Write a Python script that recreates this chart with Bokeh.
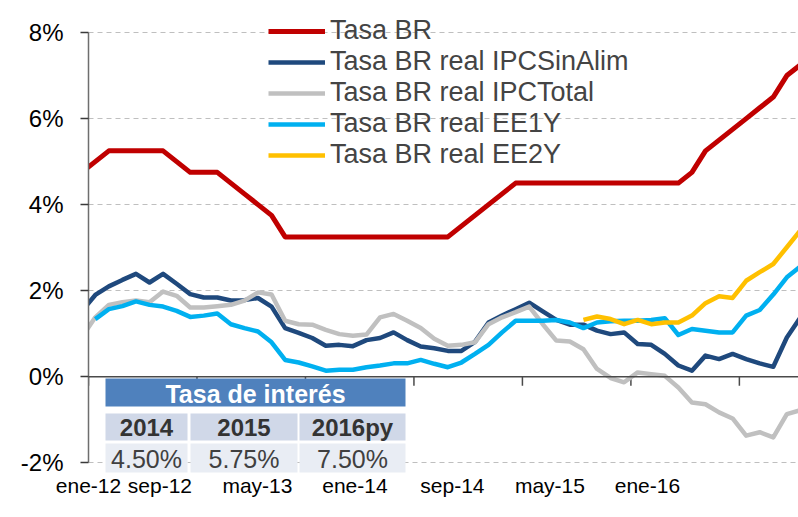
import numpy as np
from bokeh.plotting import figure
from bokeh.models import (Range1d, FixedTicker, Span, Legend, LegendItem,
                          PrintfTickFormatter, ColumnDataSource)
from bokeh.core.properties import value
from bokeh.embed import file_html
from bokeh.resources import INLINE

# ---------------- data ----------------
MES = ["ene", "feb", "mar", "abr", "may", "jun", "jul", "ago", "sep", "oct", "nov", "dic"]
MONTHS = ["dic-11"] + [f"{m}-{y}" for y in range(12, 17) for m in MES][:53]   # dic-11 .. may-16

TASA_BR = [4.75,
           5.00, 5.25, 5.25, 5.25, 5.25, 5.25, 5.00, 4.75, 4.75, 4.75, 4.50, 4.25,
           4.00, 3.75, 3.25, 3.25, 3.25, 3.25, 3.25, 3.25, 3.25, 3.25, 3.25, 3.25,
           3.25, 3.25, 3.25, 3.50, 3.75, 4.00, 4.25, 4.50, 4.50, 4.50, 4.50, 4.50,
           4.50, 4.50, 4.50, 4.50, 4.50, 4.50, 4.50, 4.50, 4.75, 5.25, 5.50, 5.75,
           6.00, 6.25, 6.50, 7.00, 7.25]

REAL_SINALIM = [1.52,
                1.90, 2.10, 2.25, 2.39, 2.19, 2.39, 2.16, 1.92, 1.84, 1.84, 1.77, 1.78,
                1.83, 1.63, 1.13, 1.02, 0.90, 0.72, 0.74, 0.71, 0.85, 0.90, 1.03, 0.85,
                0.70, 0.66, 0.60, 0.60, 0.81, 1.26, 1.42, 1.57, 1.72, 1.52, 1.32, 1.21,
                1.21, 1.07, 0.99, 1.03, 0.76, 0.74, 0.53, 0.26, 0.14, 0.49, 0.41, 0.53,
                0.41, 0.31, 0.23, 0.91, 1.38]

REAL_TOTAL = [0.92,
              1.38, 1.67, 1.73, 1.77, 1.73, 1.98, 1.88, 1.61, 1.61, 1.64, 1.67, 1.77,
              1.96, 1.91, 1.30, 1.22, 1.21, 1.09, 0.99, 0.95, 0.98, 1.38, 1.46, 1.30,
              1.13, 0.88, 0.72, 0.74, 0.80, 1.22, 1.38, 1.50, 1.63, 1.22, 0.84, 0.82,
              0.64, 0.18, -0.03, -0.13, 0.10, 0.06, 0.02, -0.25, -0.60, -0.64, -0.83, -0.97,
              -1.37, -1.29, -1.41, -0.87, -0.78]

REAL_EE1Y = [None,
             1.34, 1.57, 1.64, 1.75, 1.67, 1.63, 1.53, 1.39, 1.42, 1.47, 1.22, 1.13,
             1.05, 0.80, 0.39, 0.33, 0.24, 0.14, 0.16, 0.16, 0.22, 0.26, 0.31, 0.31,
             0.39, 0.30, 0.22, 0.33, 0.53, 0.74, 1.03, 1.30, 1.30, 1.30, 1.32, 1.26,
             1.13, 1.26, 1.29, 1.30, 1.30, 1.32, 1.36, 0.97, 1.11, 1.07, 1.03, 1.03,
             1.42, 1.55, 1.91, 2.31, 2.56]

REAL_EE2Y = [None] * 37 + [  # no data before ene-15
             1.32, 1.40, 1.34, 1.22, 1.32, 1.22, 1.26, 1.26, 1.42, 1.71, 1.87, 1.83,
             2.23, 2.43, 2.62, 3.01, 3.40]

SERIES_NAMES = ["Tasa BR", "Tasa BR real IPCSinAlim", "Tasa BR real IPCTotal",
                "Tasa BR real EE1Y", "Tasa BR real EE2Y"]

X_TICK_LABELS = ["ene-12", "sep-12", "may-13", "ene-14", "sep-14", "may-15", "ene-16"]
Y_TICKS = [-2, 0, 2, 4, 6, 8]

TABLE_TITLE = "Tasa de interés"
TABLE_YEARS = ["2014", "2015", "2016py"]
TABLE_RATES = [4.50, 5.75, 7.50]

# ---------------- layout constants ----------------
PX_MONTH = 13.56          # pixels per month
PX_PCT = 43.02            # pixels per percentage point
FRAME_W, FRAME_H = 710, 463
Y0 = -2.25
Y1 = Y0 + FRAME_H / PX_PCT
LEFT, TOP = 88, 10
TICK_EVERY = 8            # months between axis tick marks
LABEL_FIRST, LABEL_STEP = -1.92, 7.19   # where the reference prints its date labels

COLORS = ["#C00000", "#1F497D", "#C0C0C0", "#00B0F0", "#FFC000"]
WIDTHS = [5, 4.5, 4.5, 4.5, 4.5]
FONT = "Liberation Sans"

ZERO_PY = TOP + (Y1 - 0) * PX_PCT     # page y of the 0% line

def px_x(px):   # page pixel -> data x (months since ene-12)
    return (px - LEFT) / PX_MONTH

def px_y(py):   # page pixel -> data y (%)
    return (ZERO_PY - py) / PX_PCT

x = np.arange(len(MONTHS)) - 0.5   # mid-month, dic-11 at -0.5

p = figure(frame_width=FRAME_W, frame_height=FRAME_H,
           x_range=Range1d(0, FRAME_W / PX_MONTH), y_range=Range1d(Y0, Y1),
           output_backend="svg", toolbar_location=None,
           min_border_left=LEFT, min_border_right=0, min_border_top=TOP, min_border_bottom=0)
p.outline_line_color = None
p.xgrid.visible = False
p.ygrid.ticker = FixedTicker(ticks=Y_TICKS)
p.ygrid.grid_line_color = "#BFBFBF"
p.ygrid.grid_line_dash = "5 4"
p.ygrid.grid_line_width = 1

# y axis
ya = p.yaxis[0]
ya.ticker = FixedTicker(ticks=Y_TICKS)
ya.formatter = PrintfTickFormatter(format="%d%%")
ya.bounds = (Y_TICKS[0], Y_TICKS[-1])
ya.axis_line_color = "#6E6E6E"
ya.axis_line_width = 1.5
ya.major_tick_line_color = "#3A3A3A"
ya.major_tick_line_width = 1.5
ya.major_tick_out = 8
ya.major_tick_in = 0
ya.minor_tick_line_color = None
ya.major_label_text_font = FONT
ya.major_label_text_font_size = "24px"
ya.major_label_text_color = "#000000"
ya.major_label_standoff = 17

# x axis (labels only; the axis line sits at 0%)
label_pos = [round(max(0.0, LABEL_FIRST + k * LABEL_STEP), 2) for k in range(len(X_TICK_LABELS))]
xa = p.xaxis[0]
xa.ticker = FixedTicker(ticks=label_pos)
xa.major_label_overrides = {pos: lab for pos, lab in zip(label_pos, X_TICK_LABELS)}
xa.axis_line_color = None
xa.major_tick_line_color = None
xa.major_tick_out = 0
xa.major_tick_in = 0
xa.minor_tick_line_color = None
xa.major_label_text_font = FONT
xa.major_label_text_font_size = "21px"
xa.major_label_text_color = "#000000"
xa.major_label_standoff = 0

p.add_layout(Span(location=0, dimension="width", line_color="#4A4A4A", line_width=1.5))
tick_x = [k * TICK_EVERY for k in range(len(X_TICK_LABELS))]
p.segment(x0=tick_x, y0=[0] * len(tick_x), x1=tick_x, y1=[-9 / PX_PCT] * len(tick_x),
          line_color="#4A4A4A", line_width=1.5)

# series
items = []
for name, vals, col, w in zip(SERIES_NAMES,
                              [TASA_BR, REAL_SINALIM, REAL_TOTAL, REAL_EE1Y, REAL_EE2Y],
                              COLORS, WIDTHS):
    y = np.array([np.nan if v is None else v for v in vals], dtype=float)
    src = ColumnDataSource(dict(x=x, y=y, mes=MONTHS))
    r = p.line("x", "y", source=src, line_color=col, line_width=w, line_join="round")
    items.append(LegendItem(label=name, renderers=[r]))

legend = Legend(items=items, location=(180, 303), glyph_width=57, glyph_height=30,
                label_height=30, spacing=0, padding=0, margin=0, label_standoff=5,
                label_text_font=FONT, label_text_font_size="27px",
                background_fill_alpha=0, border_line_color=None)
p.add_layout(legend)

# ---------------- inset table ----------------
cells_x = [(105, 187), (190, 297), (299, 405)]
p.quad(left=[px_x(105)], right=[px_x(405)], top=[px_y(378)], bottom=[px_y(406)],
       fill_color="#4F81BD", line_color=None)
p.quad(left=[px_x(a) for a, b in cells_x], right=[px_x(b) for a, b in cells_x],
       top=[px_y(413)] * 3, bottom=[px_y(440)] * 3, fill_color="#D0D8E8", line_color=None)
p.quad(left=[px_x(a) for a, b in cells_x], right=[px_x(b) for a, b in cells_x],
       top=[px_y(443)] * 3, bottom=[px_y(472)] * 3, fill_color="#E9EDF4", line_color=None)

cx = [px_x((a + b) / 2) for a, b in cells_x]
p.text(x=[px_x(255)], y=[px_y(393)], text=[TABLE_TITLE], text_align="center",
       text_baseline="middle", text_font=value(FONT), text_font_style="bold",
       text_font_size="25px", text_color="#FFFFFF")
p.text(x=cx, y=[px_y(427)] * 3, text=TABLE_YEARS, text_align="center",
       text_baseline="middle", text_font=value(FONT), text_font_style="bold",
       text_font_size="24px", text_color="#333333")
p.text(x=cx, y=[px_y(458)] * 3, text=[f"{v:.2f}%" for v in TABLE_RATES],
       text_align="center", text_baseline="middle", text_font=value(FONT),
       text_font_size="25px", text_color="#404040")

open("out.html", "w").write(file_html(p, INLINE))
